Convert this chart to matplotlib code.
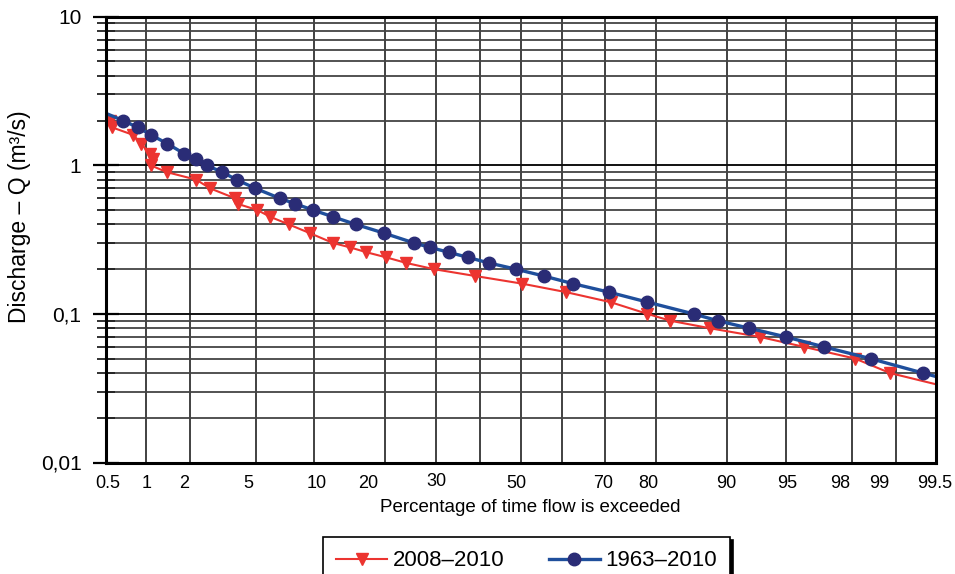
import numpy as np
import matplotlib
matplotlib.use("Agg")
import matplotlib.pyplot as plt
from matplotlib.ticker import FixedLocator, NullFormatter, NullLocator, FixedFormatter
from matplotlib.transforms import blended_transform_factory, offset_copy
from statistics import NormalDist

plt.rcParams['font.family'] = ['Liberation Sans', 'DejaVu Sans']

# ---------------- data ----------------
# 1963-2010 (first and last entries are the line ends at the axis edges)
blue_p = [0.5, 0.68, 0.87, 1.09, 1.41, 1.83, 2.19, 2.56, 3.19, 3.89, 4.97,
          6.73, 8.1, 9.86, 12.2, 15.3, 19.75, 25.4, 28.7, 32.7, 37.15,
          42.2, 48.8, 55.6, 62.6, 70.8, 78.4, 85.8, 88.9, 92.2, 95.0,
          97.0, 98.5, 99.37, 99.5]
blue_q = [2.24, 2.0, 1.8, 1.6, 1.4, 1.2, 1.1, 1.0, 0.9, 0.8, 0.7,
          0.6, 0.55, 0.5, 0.45, 0.4, 0.35, 0.3, 0.28, 0.26, 0.24,
          0.22, 0.2, 0.18, 0.16, 0.14, 0.12, 0.1, 0.09, 0.08, 0.07,
          0.06, 0.05, 0.04, 0.0379]

# 2008-2010 (last entry is the line end at the right axis edge)
red_p = [0.54, 0.56, 0.81, 0.92, 1.07, 1.13, 1.08, 1.40, 2.2, 2.69,
         3.8, 3.95, 5.1, 6.0, 7.5, 9.5, 12.2, 14.5, 16.9, 20.2,
         23.9, 29.5, 38.8, 50.2, 61.1, 71.1, 78.4, 82.3, 88.0, 93.1,
         96.05, 98.1, 98.9, 99.5]
red_q = [2.0, 1.8, 1.6, 1.4, 1.2, 1.1, 1.0, 0.9, 0.8, 0.7,
         0.6, 0.55, 0.5, 0.45, 0.4, 0.35, 0.3, 0.28, 0.26, 0.24,
         0.22, 0.2, 0.18, 0.16, 0.14, 0.12, 0.1, 0.09, 0.08, 0.07,
         0.06, 0.05, 0.04, 0.0336]

x_grid = [1, 2, 5, 10, 20, 30, 40, 50, 60, 70, 80, 90, 95, 98, 99]
x_label_vals = [0.5, 1, 2, 5, 10, 20, 30, 50, 70, 80, 90, 95, 98, 99, 99.5]
x_label_txt = ['0.5', '1', '2', '5', '10', '20', '30', '50', '70', '80',
               '90', '95', '98', '99', '99.5']
y_major = [0.01, 0.1, 1, 10]
y_major_txt = ['0,01', '0,1', '1', '10']

# --------------- normal probability scale ---------------
_nd = NormalDist()
_inv = np.vectorize(_nd.inv_cdf, otypes=[float])
_cdf = np.vectorize(_nd.cdf, otypes=[float])


def fwd(p):
    p = np.asarray(p, dtype=float)
    q = np.clip(p / 100.0, 1e-9, 1 - 1e-9)
    return _inv(q)


def inv(z):
    z = np.asarray(z, dtype=float)
    return _cdf(z) * 100.0


W, H = 955, 574
fig = plt.figure(figsize=(W / 100, H / 100), dpi=100)
L, R, T, B = 105.7, 936, 16.7, 462.5
ax = fig.add_axes([L / W, 1 - B / H, (R - L) / W, (B - T) / H])

ax.set_xscale('function', functions=(fwd, inv))
ax.set_yscale('log')
ax.set_xlim(0.5, 99.5)
ax.set_ylim(0.01, 10)

# grid
ax.xaxis.set_major_locator(FixedLocator(x_grid))
ax.xaxis.set_major_formatter(NullFormatter())
ax.xaxis.set_minor_locator(NullLocator())
ax.tick_params(axis='x', which='both', length=0)

ax.yaxis.set_major_locator(FixedLocator(y_major))
ax.yaxis.set_major_formatter(FixedFormatter(y_major_txt))
minors = [m * 10.0 ** e for e in (-2, -1, 0) for m in range(2, 10)]
ax.yaxis.set_minor_locator(FixedLocator(minors))
ax.yaxis.set_minor_formatter(NullFormatter())
ax.tick_params(axis='y', which='major', direction='inout', length=19, width=1.6,
               labelsize=15, pad=8, colors='black')
ax.tick_params(axis='y', which='minor', direction='inout', length=13, width=1.3,
               color='#222222')
for lbl in ax.get_yticklabels():
    lbl.set_va('center_baseline')

ax.grid(True, axis='x', which='major', color='#333333', linewidth=1.3, zorder=0)
ax.grid(True, axis='y', which='major', color='#111111', linewidth=1.4, zorder=0)
ax.grid(True, axis='y', which='minor', color='#444444', linewidth=1.3, zorder=0)
ax.set_axisbelow(True)

for s in ax.spines.values():
    s.set_linewidth(2.2)
    s.set_color('black')
    s.set_zorder(5)

# x tick labels as text (positions slightly offset as in the original)
trans = blended_transform_factory(ax.transData, ax.transAxes)
dx_px = [2, 1, -6, -7, 2, -17, 0, -4, -2, -8, -1, 1, -12, -17, -1]
dy_px = [0, 0, 0, 0, 0, 0, 2, 0, 0, 0, 0, 0, 0, 0, 0]
for v, t, dx, dy in zip(x_label_vals, x_label_txt, dx_px, dy_px):
    tr = offset_copy(trans, fig=fig, x=dx, y=dy, units='dots')
    ax.text(v, -0.046, t, transform=tr, ha='center', va='center', fontsize=13,
            clip_on=False)

# data lines
red_c = '#ec3430'
blue_line = '#1f4f9c'
blue_mk = '#2a2c76'
ax.plot(red_p, red_q, color=red_c, linewidth=1.5, marker='v', markersize=9,
        markerfacecolor=red_c, markeredgecolor=red_c,
        markevery=list(range(0, len(red_p) - 1)), label='2008–2010', zorder=3)
ax.plot(blue_p, blue_q, color=blue_line, linewidth=2.4, marker='o', markersize=9,
        markerfacecolor=blue_mk, markeredgecolor=blue_mk,
        markevery=list(range(1, len(blue_p) - 1)), label='1963–2010', zorder=4)

fig.text(20 / W, 1 - 216.5 / H, 'Discharge – Q (m³/s)', rotation=90,
         ha='center', va='center', fontsize=16.5)
fig.text(530.5 / W, 1 - 508 / H, 'Percentage of time flow is exceeded',
         ha='center', va='center', fontsize=13.5)

leg = fig.legend(*ax.get_legend_handles_labels(), loc='upper center',
                 bbox_to_anchor=(526.5 / W, 1 - 537 / H), bbox_transform=fig.transFigure,
                 ncol=2, fontsize=16, frameon=True, fancybox=False, framealpha=1,
                 edgecolor='black', borderaxespad=0, borderpad=0.6,
                 handlelength=2.3, handletextpad=0.25, columnspacing=2.0,
                 numpoints=1, shadow={'color': 'black', 'alpha': 1})
leg.get_frame().set_linewidth(1.2)

fig.savefig('out.png', dpi=100)
